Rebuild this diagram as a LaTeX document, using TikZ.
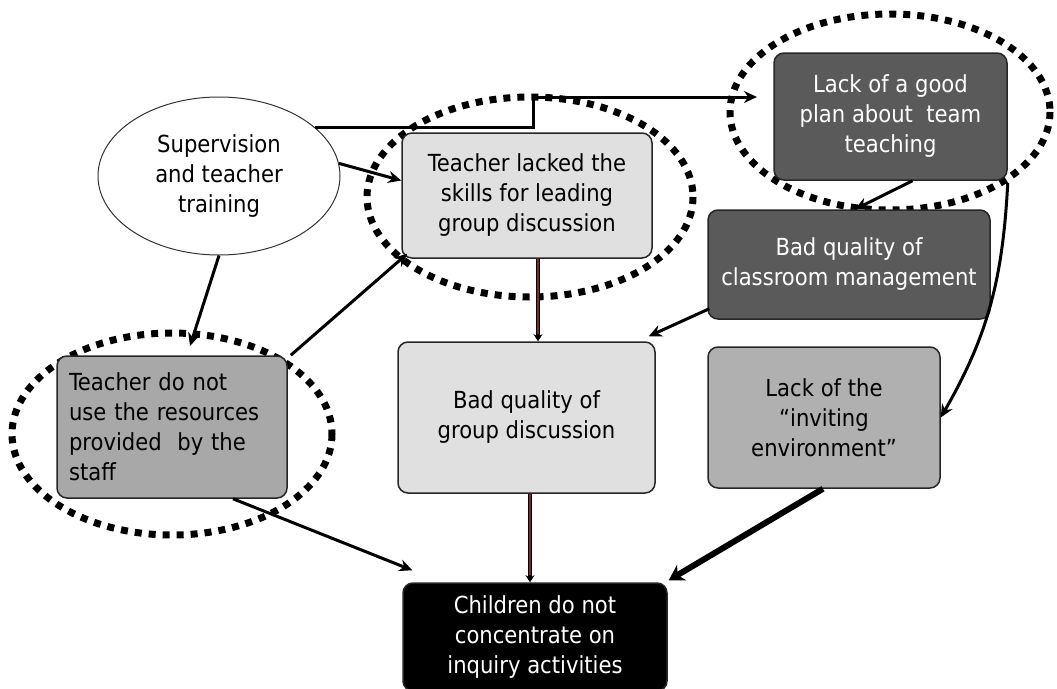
\documentclass[tikz,border=0pt]{standalone}
\usepackage{fontspec}
\setmainfont{DejaVu Sans Condensed}
\usetikzlibrary{arrows.meta,shapes.geometric}
\definecolor{lightbox}{HTML}{E0E0E0}
\definecolor{darkbox}{HTML}{5A5A5A}
\definecolor{midbox}{HTML}{B0B0B0}
\definecolor{resbox}{HTML}{A8A8A8}
\definecolor{redline}{HTML}{7A2A2A}
\tikzset{
  txt/.style={font=\fontsize{23.5}{30}\selectfont},
  box/.style={draw=black!85, line width=1.5pt, rounded corners=10pt, align=center, txt, inner sep=0pt},
  ring/.style={draw=black, line width=7pt, dash pattern=on 7pt off 7pt},
  arr/.style={draw=black, line width=3pt, -{Stealth[length=13pt,width=12pt]}},
  thickarr/.style={draw=black, line width=6pt, -{Stealth[length=15pt,width=18pt]}},
  redouter/.style={draw=black, line width=4.5pt, -{Stealth[length=7pt,width=9pt]}},
  redinner/.style={draw=redline, line width=2.2pt},
}
\begin{document}
\begin{tikzpicture}[x=1pt,y=-1pt]
\useasboundingbox (0,0) rectangle (1057,688);
% dotted rings
\draw[ring] (530,197) ellipse [x radius=163, y radius=100];
\draw[ring] (890,112) ellipse [x radius=160, y radius=98];
\draw[ring] (172,434) ellipse [x radius=160, y radius=101];
% nodes
\node[ellipse, draw=black!80, line width=1pt, fill=white, minimum width=242pt, minimum height=158pt,
  align=center, txt, inner sep=0pt] (ell) at (219,176)
  {Supervision\\and teacher\\training};
\node[box, fill=lightbox, minimum width=250pt, minimum height=125pt] (lacked) at (527,195.5)
  {Teacher lacked the\\skills for leading\\group discussion};
\node[box, fill=darkbox, text=white, minimum width=233pt, minimum height=127pt] (plan) at (890.5,116.5)
  {Lack of a good\\plan about~~team\\teaching};
\node[box, fill=darkbox, text=white, minimum width=282pt, minimum height=109pt] (mgmt) at (849,264.5)
  {Bad quality of\\classroom management};
\node[box, fill=lightbox, minimum width=257pt, minimum height=151pt] (grp) at (526.5,417.5)
  {Bad quality of\\group discussion};
\node[box, fill=midbox, minimum width=232pt, minimum height=141pt] (inv) at (824,417.5)
  {Lack of the\\“inviting\\environment”};
\node[box, fill=resbox, minimum width=230pt, minimum height=142pt, text width=206pt, align=left,
  inner xsep=12pt] (res) at (172,427)
  {Teacher do not\\use the resources\\provided~~by the\\staff};
\node[box, fill=black, text=white, minimum width=264pt, minimum height=108pt] (child) at (535,637)
  {Children do not\\concentrate on\\inquiry activities};
% helper coordinates
\coordinate (bend) at (533,97);
\coordinate (pe) at (757,97);
\coordinate (resin) at (190,346);
% connectors
\draw[arr] (ell.27) -| (bend) -- (pe);
\draw[arr] (ell.6) -- ([yshift=15pt]lacked.west);
\draw[arr] (ell.south) -- (resin);
\draw[arr] ([xshift=3pt]res.north east) -- ([xshift=6pt,yshift=5pt]lacked.south west);
\draw[redouter] ([xshift=11pt]lacked.south) -- ([xshift=11.5pt]grp.north);
\draw[redinner] ([xshift=11pt]lacked.south) -- ([xshift=11.5pt,yshift=7pt]grp.north);
\draw[redouter] ([xshift=3.5pt]grp.south) -- ([xshift=-5pt]child.north);
\draw[redinner] ([xshift=3.5pt]grp.south) -- ([xshift=-5pt,yshift=7pt]child.north);
\draw[arr] ([xshift=22pt]plan.south) -- ([xshift=6pt]mgmt.north);
\draw[arr] ([xshift=2pt,yshift=11pt]mgmt.south west) -- ([xshift=-7pt,yshift=5pt]grp.north east);
\draw[arr] ([yshift=-2pt]plan.south east) to[out=-93,in=60] (inv.east);
\draw[arr] ([xshift=61pt]res.south) -- ([xshift=10pt,yshift=12pt]child.north west);
\draw[thickarr] ([xshift=-1pt]inv.south) -- ([xshift=1pt,yshift=2pt]child.north east);
\end{tikzpicture}
\end{document}
